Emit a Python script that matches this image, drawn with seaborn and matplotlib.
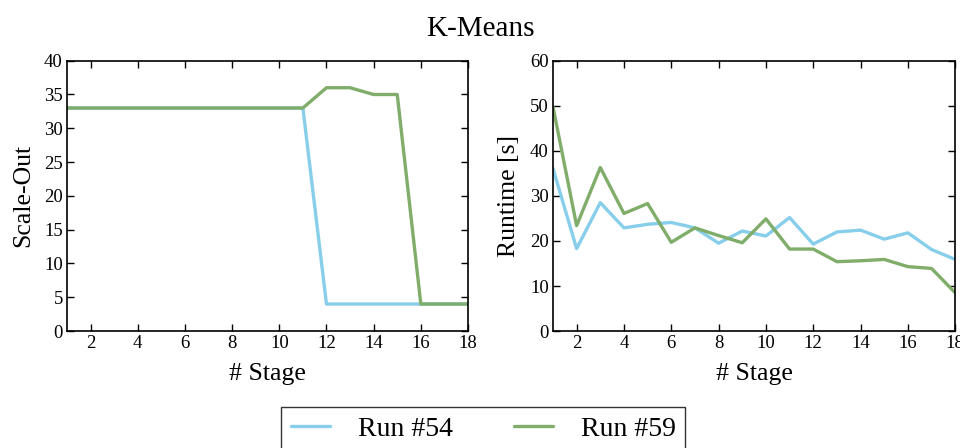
import numpy as np
import pandas as pd
import seaborn as sns
import matplotlib
matplotlib.use("Agg")
import matplotlib.pyplot as plt

stages = list(range(1, 19))
runs = ["Run #54", "Run #59"]

scaleout_54 = [33] * 11 + [4] * 7
scaleout_59 = [33] * 11 + [36, 36, 35, 35, 4, 4, 4]

runtime_54 = [36.1, 18.3, 28.5, 22.9, 23.7, 24.1, 22.9, 19.5, 22.2,
              21.1, 25.2, 19.3, 22.0, 22.4, 20.4, 21.8, 18.1, 15.9]
runtime_59 = [49.8, 23.4, 36.3, 26.1, 28.3, 19.7, 22.9, 21.2, 19.6,
              24.9, 18.2, 18.2, 15.4, 15.6, 15.9, 14.3, 13.9, 8.5]

colors = {"Run #54": "#87ceeb", "Run #59": "#80ad6a"}

df = pd.DataFrame({
    "stage": stages * 2,
    "run": [runs[0]] * 18 + [runs[1]] * 18,
    "scaleout": scaleout_54 + scaleout_59,
    "runtime": runtime_54 + runtime_59,
})

sns.set_style("ticks")
plt.rcParams["font.family"] = ["Liberation Serif", "DejaVu Serif"]
plt.rcParams["text.color"] = "black"
plt.rcParams["axes.labelcolor"] = "black"
plt.rcParams["xtick.color"] = "black"
plt.rcParams["ytick.color"] = "black"

fig = plt.figure(figsize=(9.6, 4.48), dpi=100)
ax1 = fig.add_axes([0.0698, 0.261, 0.4177, 0.6035])
ax2 = fig.add_axes([0.576, 0.261, 0.419, 0.6035])

sns.lineplot(data=df, x="stage", y="scaleout", hue="run", palette=colors,
             linewidth=2.4, ax=ax1, legend=False)
sns.lineplot(data=df, x="stage", y="runtime", hue="run", palette=colors,
             linewidth=2.4, ax=ax2, legend=False)

for ax, ylabel, ymax, ystep in [(ax1, "Scale-Out", 40, 5), (ax2, "Runtime [s]", 60, 10)]:
    ax.set_xlim(1, 18)
    ax.set_ylim(0, ymax)
    ax.set_xticks(range(2, 19, 2))
    ax.set_yticks(range(0, ymax + 1, ystep))
    ax.set_xlabel("# Stage", fontsize=18.5, labelpad=8)
    ax.set_ylabel(ylabel, fontsize=18.5, labelpad=7)
    ax.tick_params(direction="in", top=True, right=True, length=5,
                   width=1, labelsize=13.5, pad=3)
    for s in ax.spines.values():
        s.set_color("black")
        s.set_linewidth(1.2)
        s.set_visible(True)

fig.suptitle("K-Means", fontsize=21, y=0.965)

handles = [plt.Line2D([], [], color=colors[r], linewidth=2.4) for r in runs]
leg = fig.legend(handles, runs, loc="upper center", bbox_to_anchor=(0.5035, 0.0915),
                 borderaxespad=0, ncol=2, fontsize=20, frameon=True,
                 fancybox=False, edgecolor="black", columnspacing=2.2,
                 handlelength=1.4, handletextpad=1.0, borderpad=0.35)
leg.get_frame().set_linewidth(1.0)

fig.savefig("out.png", dpi=100)
